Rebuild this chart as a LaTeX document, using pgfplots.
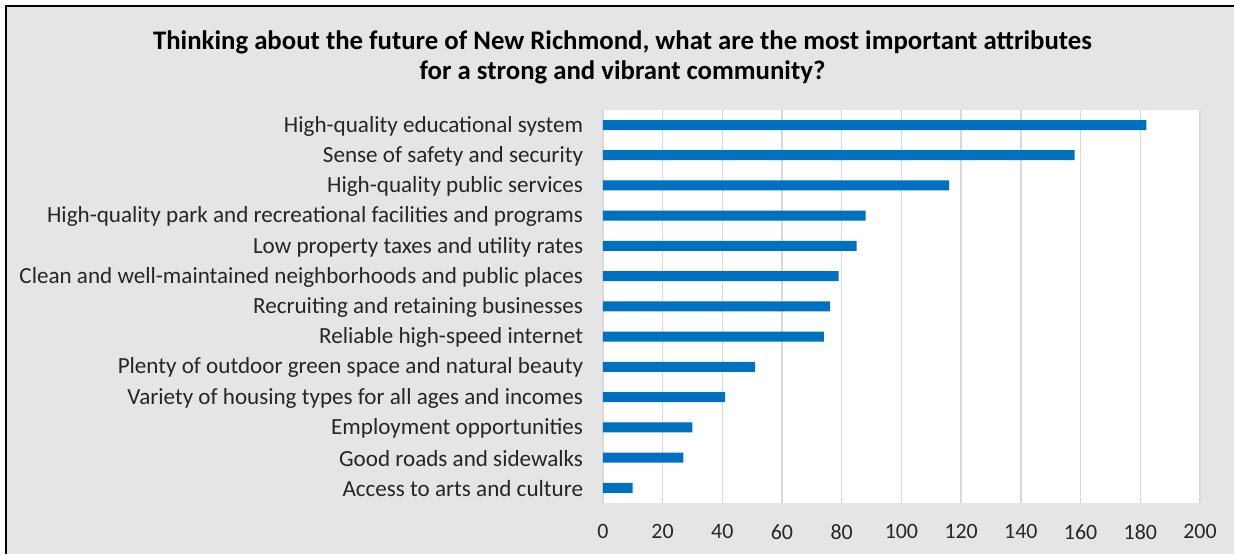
\documentclass[border=0pt]{standalone}
\usepackage{pgfplots}
\pgfplotsset{compat=1.18}
\usepackage{fontspec}
\setmainfont{Carlito}
\definecolor{barblue}{HTML}{0070C0}
\definecolor{bggray}{HTML}{E5E5E5}
\definecolor{gridgray}{HTML}{D9D9D9}
\begin{document}
\begin{tikzpicture}[x=1bp,y=1bp]
\fill[white] (0,0) rectangle (1235,554);
\fill[bggray] (7,0) rectangle (1235,547);
\draw[black,line width=2bp] (6,0) -- (6,548) -- (1235,548);
\node[font=\fontsize{26.9}{30}\selectfont\bfseries,align=center,text=black] at (623,497) {Thinking about the future of New Richmond, what are the most important attributes\\for a strong and vibrant community?};
\begin{axis}[
  at={(603.3bp,50.7bp)}, anchor=south west,
  scale only axis, width=597.7bp, height=393.3bp,
  xmin=0, xmax=200, ymin=-0.5, ymax=12.5,
  xtick={0,20,...,200}, ytick={0,...,12},
  yticklabels={Access to arts and culture,Good roads and sidewalks,Employment opportunities,Variety of housing types for all ages and incomes,Plenty of outdoor green space and natural beauty,Reliable high-speed internet,Recruiting and retaining businesses,Clean and well-maintained neighborhoods and public places,Low property taxes and utility rates,High-quality park and recreational facilities and programs,High-quality public services,Sense of safety and security,High-quality educational system},
  xmajorgrids, grid style={gridgray,line width=1.5bp},
  axis line style={draw=none}, major tick style={draw=none},
  axis background/.style={fill=white},
  ticklabel style={font=\fontsize{23.2}{27}\selectfont, text=black!85},
  /pgf/number format/assume math mode=true,
  xticklabel style={yshift=-18bp,font=\fontsize{22}{26}\selectfont},
  yticklabel style={xshift=-12bp, yshift=-1bp},
  xbar, bar width=10bp,
]
\addplot[fill=barblue, draw=none] coordinates {
(10,0) (27,1) (30,2) (41,3) (51,4) (74,5) (76,6) (79,7) (85,8) (88,9) (116,10) (158,11) (182,12)
};
\end{axis}
\end{tikzpicture}
\end{document}
